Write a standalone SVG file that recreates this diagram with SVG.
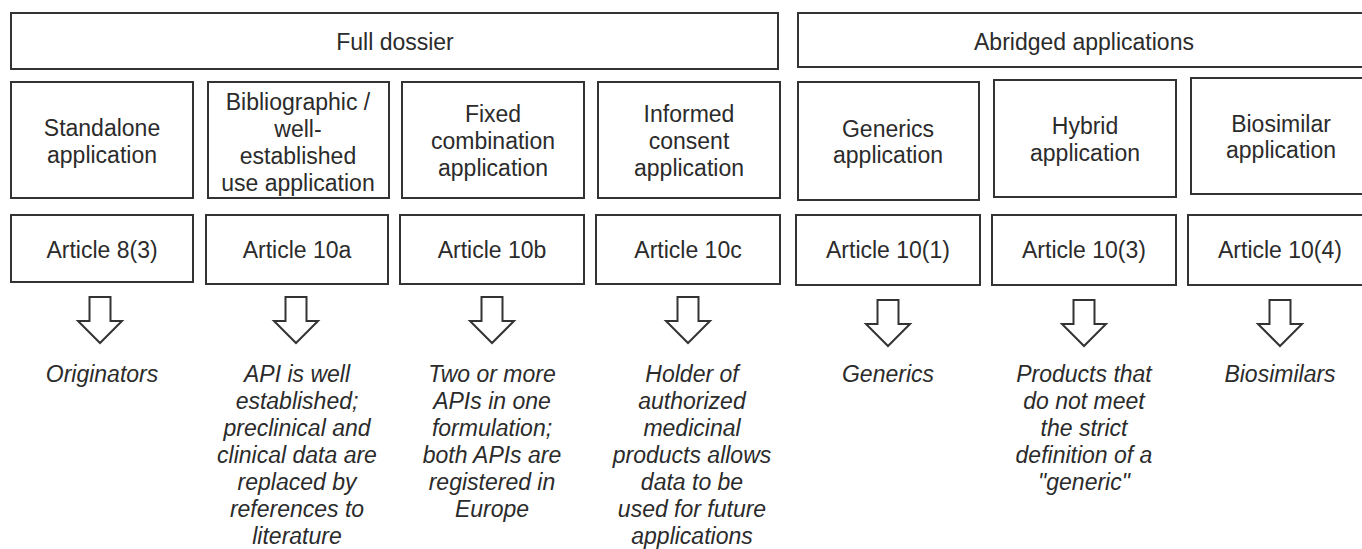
<svg xmlns="http://www.w3.org/2000/svg" xmlns:xlink="http://www.w3.org/1999/xlink" width="1362" height="549" viewBox="0 0 1362 549">
<style>
.box{fill:#fff;stroke:#333;stroke-width:2}
.t{font-family:"Liberation Sans",Arial,sans-serif;font-size:23px;fill:#2b2b2b;text-anchor:middle}
.i{font-style:italic}
.arr{fill:#fff;stroke:#333;stroke-width:2;stroke-linejoin:miter}
</style>
<defs>
<path id="darrow" d="M-10.5,0 H10.5 V24 H22 L0,46 L-22,24 H-10.5 Z"/>
</defs>
<rect width="1362" height="549" fill="#fff"/>
<g id="full-dossier">
<rect class="box" x="11" y="13" width="767" height="56"/>
<text class="t" x="395" y="50">Full dossier</text>
</g>
<g id="abridged">
<rect class="box" x="798" y="13" width="580" height="54"/>
<text class="t" x="1084" y="50">Abridged applications</text>
</g>
<g id="standalone">
<rect class="box" x="11" y="82" width="182" height="116"/>
<text class="t" x="102" y="136">Standalone</text>
<text class="t" x="102" y="163">application</text>
</g>
<g id="bibliographic">
<rect class="box" x="208" y="82" width="181" height="116"/>
<text class="t" x="298" y="110">Bibliographic /</text>
<text class="t" x="298" y="137">well-</text>
<text class="t" x="298" y="164">established</text>
<text class="t" x="298" y="191">use application</text>
</g>
<g id="fixed">
<rect class="box" x="402" y="82" width="182" height="116"/>
<text class="t" x="493" y="122">Fixed</text>
<text class="t" x="493" y="149">combination</text>
<text class="t" x="493" y="176">application</text>
</g>
<g id="informed">
<rect class="box" x="598" y="82" width="182" height="116"/>
<text class="t" x="689" y="122">Informed</text>
<text class="t" x="689" y="149">consent</text>
<text class="t" x="689" y="176">application</text>
</g>
<g id="generics">
<rect class="box" x="798" y="82" width="181" height="118"/>
<text class="t" x="888" y="137">Generics</text>
<text class="t" x="888" y="163">application</text>
</g>
<g id="hybrid">
<rect class="box" x="994" y="80" width="182" height="117"/>
<text class="t" x="1085" y="134">Hybrid</text>
<text class="t" x="1085" y="161">application</text>
</g>
<g id="biosimilar">
<rect class="box" x="1191" y="78" width="180" height="116"/>
<text class="t" x="1281" y="132">Biosimilar</text>
<text class="t" x="1281" y="158">application</text>
</g>
<g id="art83">
<rect class="box" x="11" y="215" width="182" height="67"/>
<text class="t" x="102" y="258">Article 8(3)</text>
</g>
<g id="art10a">
<rect class="box" x="206" y="215" width="182" height="69"/>
<text class="t" x="297" y="258">Article 10a</text>
</g>
<g id="art10b">
<rect class="box" x="400" y="215" width="184" height="69"/>
<text class="t" x="492" y="258">Article 10b</text>
</g>
<g id="art10c">
<rect class="box" x="596" y="215" width="184" height="69"/>
<text class="t" x="688" y="258">Article 10c</text>
</g>
<g id="art101">
<rect class="box" x="796" y="215" width="184" height="70"/>
<text class="t" x="888" y="258">Article 10(1)</text>
</g>
<g id="art103">
<rect class="box" x="992" y="215" width="184" height="70"/>
<text class="t" x="1084" y="258">Article 10(3)</text>
</g>
<g id="art104">
<rect class="box" x="1188" y="215" width="184" height="70"/>
<text class="t" x="1280" y="258">Article 10(4)</text>
</g>
<g id="connectors">
<use xlink:href="#darrow" class="arr" transform="translate(100,297)"/>
<use xlink:href="#darrow" class="arr" transform="translate(296,297)"/>
<use xlink:href="#darrow" class="arr" transform="translate(492,297)"/>
<use xlink:href="#darrow" class="arr" transform="translate(688,297)"/>
<use xlink:href="#darrow" class="arr" transform="translate(888,300)"/>
<use xlink:href="#darrow" class="arr" transform="translate(1084,300)"/>
<use xlink:href="#darrow" class="arr" transform="translate(1280,300)"/>
</g>
<g id="originators">
<text class="t i" x="102" y="382">Originators</text>
</g>
<g id="desc-10a">
<text class="t i" x="297" y="382">API is well</text>
<text class="t i" x="297" y="409">established;</text>
<text class="t i" x="297" y="436">preclinical and</text>
<text class="t i" x="297" y="463">clinical data are</text>
<text class="t i" x="297" y="490">replaced by</text>
<text class="t i" x="297" y="517">references to</text>
<text class="t i" x="297" y="544">literature</text>
</g>
<g id="desc-10b">
<text class="t i" x="492" y="382">Two or more</text>
<text class="t i" x="492" y="409">APIs in one</text>
<text class="t i" x="492" y="436">formulation;</text>
<text class="t i" x="492" y="463">both APIs are</text>
<text class="t i" x="492" y="490">registered in</text>
<text class="t i" x="492" y="517">Europe</text>
</g>
<g id="desc-10c">
<text class="t i" x="692" y="382">Holder of</text>
<text class="t i" x="692" y="409">authorized</text>
<text class="t i" x="692" y="436">medicinal</text>
<text class="t i" x="692" y="463">products allows</text>
<text class="t i" x="692" y="490">data to be</text>
<text class="t i" x="692" y="517">used for future</text>
<text class="t i" x="692" y="544">applications</text>
</g>
<g id="desc-generics">
<text class="t i" x="888" y="382">Generics</text>
</g>
<g id="desc-hybrid">
<text class="t i" x="1084" y="382">Products that</text>
<text class="t i" x="1084" y="409">do not meet</text>
<text class="t i" x="1084" y="436">the strict</text>
<text class="t i" x="1084" y="463">definition of a</text>
<text class="t i" x="1084" y="490">"generic"</text>
</g>
<g id="desc-biosimilars">
<text class="t i" x="1280" y="382">Biosimilars</text>
</g>
</svg>
